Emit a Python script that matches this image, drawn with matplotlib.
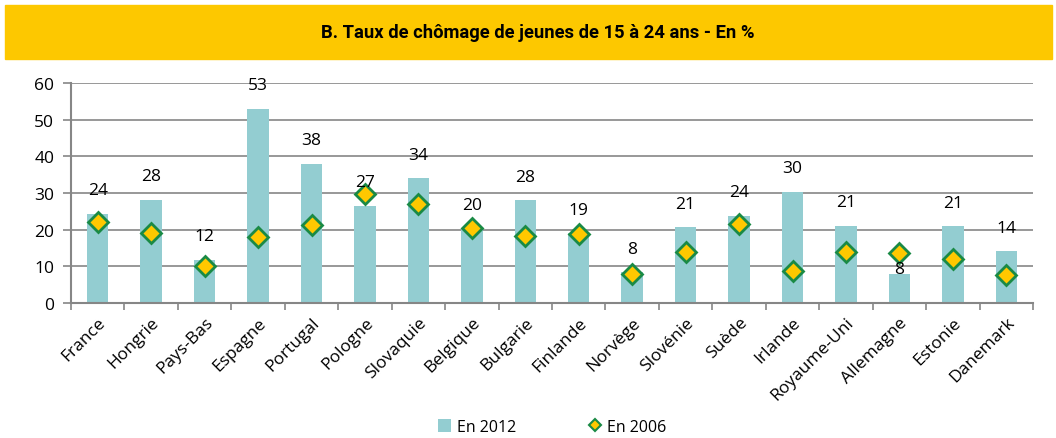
import matplotlib
matplotlib.use("Agg")
import matplotlib.pyplot as plt
from matplotlib.patches import Rectangle, Patch
from matplotlib.lines import Line2D
import numpy as np

plt.rcParams['font.family'] = ['Open Sans', 'DejaVu Sans']

pays = ["France", "Hongrie", "Pays-Bas", "Espagne", "Portugal", "Pologne",
        "Slovaquie", "Belgique", "Bulgarie", "Finlande", "Norvège", "Slovénie",
        "Suède", "Irlande", "Royaume-Uni", "Allemagne", "Estonie", "Danemark"]
en_2012 = [24.4, 28.2, 11.7, 53.0, 38.0, 26.5, 34.0, 20.2, 28.0, 19.0,
           8.4, 20.6, 23.7, 30.4, 21.0, 7.9, 20.9, 14.1]
en_2006 = [22.0, 19.1, 10.0, 17.9, 21.2, 29.8, 27.0, 20.5, 18.3, 18.7,
           7.8, 13.9, 21.5, 8.7, 13.8, 13.6, 12.1, 7.7]
etiquettes = ["24", "28", "12", "53", "38", "27", "34", "20", "28", "19",
              "8", "21", "24", "30", "21", "8", "21", "14"]

bar_col = "#93CDD1"
grid_col = "#868686"
jaune = "#FFC800"
vert = "#1A8A45"

fig = plt.figure(figsize=(10.56, 4.39), dpi=100)

# bandeau jaune du titre
fig.patches.append(Rectangle((5 / 1056, 1 - 60 / 439), 1047 / 1056, 54 / 439,
                             transform=fig.transFigure, color="#FDC800", zorder=0))
fig.text(0.509, 1 - 33 / 439, "B. Taux de chômage de jeunes de 15 à 24 ans - En %",
         ha="center", va="center", fontsize=13.2, fontweight="bold",
         family=["Roboto", "DejaVu Sans"])

ax = fig.add_axes([71 / 1056, 1 - 304 / 439, 962 / 1056, 220 / 439])
x = np.arange(len(pays))
ax.bar(x, en_2012, width=0.4, color=bar_col, zorder=2)
ax.plot(x, en_2006, linestyle="none", marker="D", markersize=10,
        markerfacecolor=jaune, markeredgecolor=vert, markeredgewidth=2, zorder=3)

decal = {15: 3.5}
for i, (v, t) in enumerate(zip(en_2012, etiquettes)):
    ax.annotate(t, (x[i], v), xytext=(0, decal.get(i, 17)), textcoords="offset points",
                ha="center", va="center", fontsize=12.5, zorder=4)

ax.set_xlim(-0.5, len(pays) - 0.5)
ax.set_ylim(0, 60)
ax.set_yticks(range(0, 61, 10))
ax.yaxis.grid(True, color=grid_col, linewidth=1.2, zorder=1)
ax.set_axisbelow(True)

ax.set_xticks(np.arange(-0.5, len(pays), 1))
ax.set_xticklabels([])
ax.set_xticks(x, minor=True)
ax.set_xticklabels(pays, minor=True, rotation=45, ha="right", rotation_mode="anchor",
                   fontsize=12.5)
ax.tick_params(axis="x", which="minor", length=0, pad=8)
ax.tick_params(axis="x", which="major", length=5, color=grid_col, width=1.2)
ax.tick_params(axis="y", length=6, color=grid_col, width=1.2, labelsize=12.5, pad=6)

for s in ["top", "right"]:
    ax.spines[s].set_visible(False)
for s in ["left", "bottom"]:
    ax.spines[s].set_color(grid_col)
    ax.spines[s].set_linewidth(1.5)

handles = [Patch(facecolor=bar_col, edgecolor="none"),
           Line2D([], [], linestyle="none", marker="D", markersize=6,
                  markerfacecolor=jaune, markeredgecolor=vert, markeredgewidth=1.5)]
fig.legend(handles, ["En 2012", "En 2006"], loc="center",
           bbox_to_anchor=(0.523, 1 - 428 / 439), ncol=2, frameon=False,
           fontsize=11.5, handlelength=0.8, handleheight=0.9, handletextpad=0.4,
           columnspacing=4.5, borderaxespad=0)

fig.savefig("out.png", dpi=100)
